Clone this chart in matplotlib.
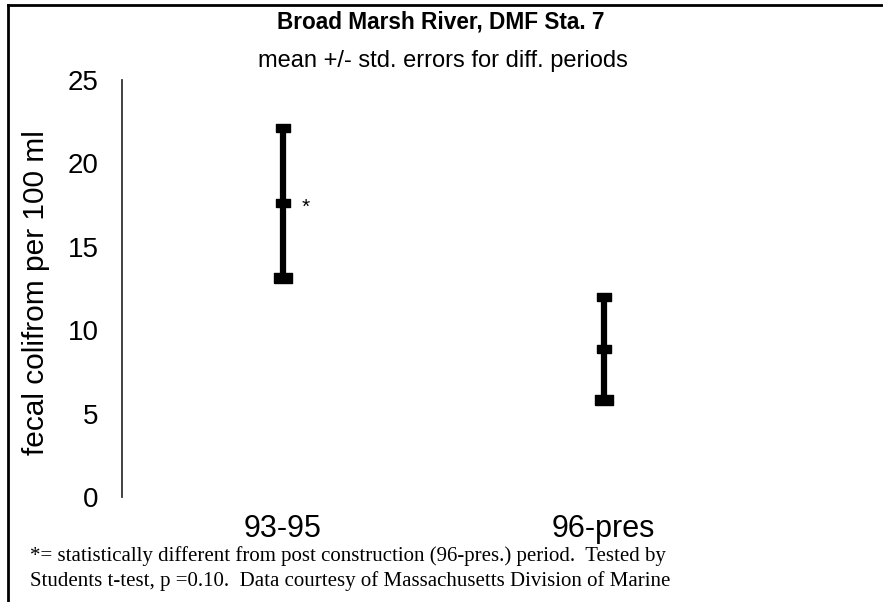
import matplotlib
matplotlib.use("Agg")
import matplotlib.pyplot as plt
from matplotlib.lines import Line2D

categories = ["93-95", "96-pres"]
means = [17.6, 8.9]
highs = [22.1, 12.0]
lows = [13.1, 5.8]
yticks = [0, 5, 10, 15, 20, 25]

title = "Broad Marsh River, DMF Sta. 7"
subtitle = "mean +/- std. errors for diff. periods"
ylabel = "fecal colifrom per 100 ml"
footer1 = "*= statistically different from post construction (96-pres.) period.  Tested by"
footer2 = "Students t-test, p =0.10.  Data courtesy of Massachusetts Division of Marine"

W, H = 883, 602
fig = plt.figure(figsize=(W / 100, H / 100), dpi=100)
fig.patch.set_facecolor("white")
plt.rcParams["font.family"] = ["Liberation Sans", "DejaVu Sans"]

# border (top and left)
fig.add_artist(Line2D([8 / W, 1.0], [1 - 5 / H, 1 - 5 / H], color="black", lw=2, transform=fig.transFigure))
fig.add_artist(Line2D([8 / W, 8 / W], [0, 1 - 5 / H], color="black", lw=2, transform=fig.transFigure))

left, right = 122 / W, 764 / W
bottom, top = 1 - 497 / H, 1 - 80 / H
ax = fig.add_axes([left, bottom, right - left, top - bottom])
x = list(range(len(categories)))
ax.vlines(x, lows, highs, color="black", lw=4.5)
cap = [(-1, -0.6), (1, -0.6), (1, 0.6), (-1, 0.6), (-1, -0.6)]
ax.plot(x, highs, linestyle="none", marker=cap, markersize=10, color="black")
ax.plot(x, means, linestyle="none", marker=cap, markersize=10.5, color="black")
ax.plot(x, lows, linestyle="none", marker=cap, markersize=13, color="black")
ax.annotate("*", (x[0], means[0]), xytext=(14, -3), textcoords="offset points",
            ha="left", va="center", fontsize=15)

ax.set_xlim(-0.5, len(categories) - 0.5)
ax.set_ylim(0, 25)
ax.set_yticks(yticks)
ax.set_xticks(x)
ax.set_xticklabels(categories, fontsize=22)
ax.tick_params(axis="y", length=0, pad=17, labelsize=20)
ax.tick_params(axis="x", length=0, pad=12)
for s in ["top", "right", "bottom"]:
    ax.spines[s].set_visible(False)
ax.spines["left"].set_color("#333333")
ax.spines["left"].set_linewidth(1.3)
ax.set_ylabel(ylabel, fontsize=21.5)
ax.yaxis.set_label_coords(-72 / (W * (right - left)), 0.49)

fig.text(441 / W, 1 - 22 / H, title, ha="center", va="center", fontsize=16.3, fontweight="bold")
fig.text(443 / W, 1 - 61 / H, subtitle, ha="center", va="center", fontsize=17)
fig.text(30 / W, 1 - 556 / H, footer1, ha="left", va="center", fontsize=15,
         family=["Liberation Serif", "DejaVu Serif"])
fig.text(30 / W, 1 - 581 / H, footer2, ha="left", va="center", fontsize=15,
         family=["Liberation Serif", "DejaVu Serif"])

fig.savefig("out.png", dpi=100, facecolor="white")
